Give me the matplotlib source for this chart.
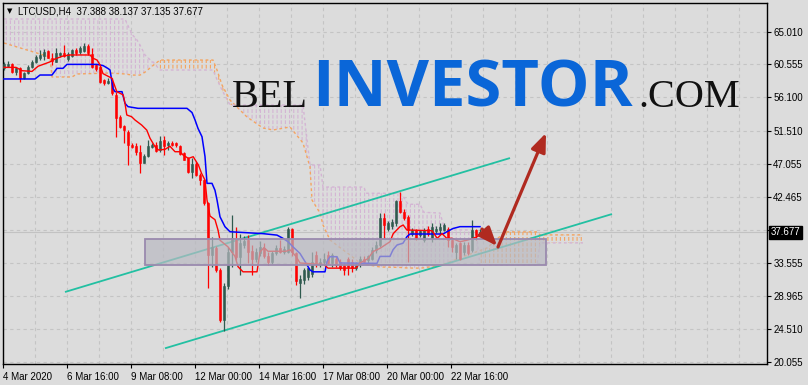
import numpy as np
import matplotlib
matplotlib.use('Agg')
import matplotlib.pyplot as plt
from matplotlib.patches import Rectangle
from matplotlib.transforms import blended_transform_factory

plt.rcParams['font.family'] = ['Liberation Sans', 'DejaVu Sans']

# ---------------- data (LTCUSD H4) ----------------
opens = [60.02, 60.38, 60.56, 59.47, 60.02, 58.75, 59.34, 60.25, 60.84, 61.38,
         61.75, 62.38, 61.47, 60.93, 61.84, 62.06, 61.29, 61.75, 62.52, 62.20,
         62.38, 63.10, 61.93, 60.47, 60.25, 58.43, 58.00, 58.20, 56.40, 53.43,
         52.20, 51.39, 49.57, 49.44, 48.66, 47.16, 48.07, 49.35, 49.57, 48.89,
         50.25, 49.53, 49.90, 49.80, 49.44, 48.50, 47.75, 45.94, 46.98, 45.49,
         44.80, 41.63, 34.60, 35.60, 32.60, 25.80, 30.30, 35.04, 36.63, 34.36,
         35.95, 36.60, 35.20, 34.00, 34.80, 35.60, 34.50, 33.60, 34.80, 35.60,
         35.00, 35.00, 38.20, 34.80, 30.80, 31.20, 31.60, 32.00, 34.60, 33.30,
         33.60, 34.60, 33.50, 34.00, 33.70, 33.20, 34.00, 33.70, 32.80, 33.30,
         34.10, 33.90, 34.10, 35.30, 36.00, 39.60, 38.20, 38.50, 38.90, 41.90,
         40.50, 39.80, 37.50, 38.00, 37.30, 36.60, 38.20, 36.90, 37.80, 38.00,
         38.00, 38.20, 36.60, 35.00, 36.20, 35.00, 35.90, 35.30, 38.00, 37.388]
highs = [60.93, 61.00, 60.70, 60.25, 60.25, 59.56, 60.50, 61.15, 61.80, 62.52,
         62.65, 62.52, 62.06, 62.74, 62.30, 63.20, 62.29, 62.70, 62.75, 63.00,
         63.42, 63.29, 62.74, 60.60, 60.38, 58.60, 58.66, 58.66, 56.84, 53.60,
         52.30, 51.60, 49.80, 49.80, 49.57, 48.40, 50.25, 49.80, 50.00, 50.80,
         50.80, 50.16, 50.10, 50.00, 49.60, 48.66, 47.98, 47.75, 47.20, 45.70,
         45.00, 41.80, 37.10, 35.80, 32.80, 30.80, 35.70, 40.10, 38.36, 37.50,
         37.20, 37.30, 36.00, 35.50, 36.50, 36.20, 35.00, 35.20, 36.00, 36.60,
         35.80, 38.36, 38.30, 35.00, 31.90, 32.80, 33.00, 35.00, 35.20, 34.20,
         34.80, 35.10, 34.80, 34.40, 34.00, 33.50, 34.30, 34.00, 33.60, 34.40,
         34.40, 34.60, 35.70, 36.50, 40.30, 40.30, 39.20, 39.50, 42.10, 43.20,
         40.80, 40.00, 38.30, 38.20, 38.00, 38.30, 38.50, 38.90, 38.50, 39.00,
         39.00, 38.40, 36.80, 36.20, 36.40, 36.30, 36.40, 39.40, 38.20, 38.137]
lows = [59.84, 60.25, 59.34, 59.11, 58.11, 58.57, 59.30, 60.00, 60.70, 61.16,
        61.16, 61.38, 60.47, 60.84, 61.60, 61.60, 61.02, 61.60, 61.90, 62.00,
        62.30, 61.84, 60.02, 59.70, 57.97, 57.80, 57.84, 56.38, 50.70, 51.90,
        49.90, 46.85, 49.10, 48.20, 45.80, 47.07, 48.00, 49.10, 48.66, 48.66,
        48.20, 48.90, 49.40, 49.30, 48.20, 47.50, 45.70, 45.03, 45.30, 44.10,
        41.40, 30.05, 33.00, 32.30, 25.50, 24.30, 30.00, 33.00, 33.90, 31.86,
        35.50, 33.50, 31.90, 33.60, 34.50, 34.20, 33.20, 33.40, 34.60, 34.80,
        34.70, 34.80, 34.50, 30.50, 28.70, 30.60, 31.20, 31.60, 33.00, 32.90,
        33.30, 33.30, 33.00, 33.00, 32.50, 31.90, 31.90, 32.30, 32.50, 33.00,
        33.50, 33.50, 33.90, 34.80, 35.70, 36.80, 37.90, 38.20, 38.50, 40.30,
        39.30, 33.70, 37.20, 36.60, 37.00, 36.40, 37.20, 36.40, 37.60, 37.50,
        37.80, 35.70, 35.00, 34.10, 33.90, 34.60, 34.60, 35.00, 36.60, 37.135]
closes = [60.56, 60.56, 59.47, 60.02, 58.75, 59.34, 60.25, 60.93, 61.56, 61.84,
          62.29, 61.47, 61.02, 62.06, 62.06, 61.75, 61.93, 62.47, 62.06, 62.74,
          63.10, 62.06, 60.25, 59.90, 58.10, 58.00, 58.30, 56.61, 53.20, 52.07,
          51.60, 49.57, 49.35, 48.66, 47.16, 48.07, 49.44, 49.57, 48.80, 50.16,
          49.44, 49.80, 49.57, 49.53, 48.35, 47.60, 45.94, 46.98, 45.49, 44.80,
          41.63, 34.60, 35.70, 32.55, 25.80, 30.36, 35.04, 36.86, 34.36, 36.18,
          36.54, 35.00, 34.00, 35.00, 35.70, 34.40, 33.60, 34.80, 35.60, 35.00,
          35.40, 38.20, 35.00, 31.00, 31.30, 32.50, 32.80, 33.70, 33.50, 33.70,
          34.10, 33.50, 34.60, 33.20, 32.80, 32.50, 33.00, 32.80, 33.20, 34.10,
          33.70, 34.40, 35.30, 35.90, 39.60, 38.70, 38.90, 39.10, 41.90, 40.50,
          39.60, 38.00, 38.00, 36.90, 37.80, 38.00, 37.50, 38.40, 38.20, 38.40,
          38.70, 36.60, 35.70, 35.90, 34.10, 35.90, 34.80, 38.00, 37.30, 37.677]

# Ichimoku lines (bar index, price)
tenkan_idx = [0, 3, 4.5, 7, 8.5, 11.5, 12.75, 14.75, 16.5, 21.5, 22.25, 23.25, 24, 24.75,
              27, 28.2, 29.8, 30.25, 30.7, 31.9, 32.75, 34.4, 35.7, 36.5, 37.75, 38.6,
              40.25, 41.5, 42.75, 44, 44.8, 46.1, 47.3, 48.6, 49.4, 50.25, 50.75, 51.5,
              52.75, 53.5, 54, 56, 57.75, 58.5, 59.75, 63.25, 64, 65, 66, 70.5, 71.5,
              73, 74, 80, 81, 88, 89, 91, 92.25, 94, 96.5, 97.3, 99, 99.8, 100.7, 107,
              108.3, 109.5, 110.7, 112, 114, 115.7, 117.3, 119]
tenkan_val = [60.15, 60.15, 59.7, 59.6, 60.3, 60.9, 61.3, 61.7, 61.84, 61.84, 61.4, 61.15,
              60.5, 59.3, 58.66, 56.84, 56.4, 55.25, 53.66, 53.43, 52.98, 52.3, 51.6, 50.5,
              49.35, 48.9, 48.98, 49.4, 48.66, 48.66, 48.2, 47.75, 47.98, 46.85, 45.7,
              44.8, 42.1, 39.9, 39.4, 38.0, 36.6, 35.7, 34.4, 33.0, 32.3, 32.3, 35.0,
              35.6, 35.1, 35.1, 35.3, 34.4, 33.5, 33.3, 32.8, 32.8, 33.5, 34.1, 35.05,
              35.5, 36.4, 37.5, 38.45, 38.68, 38.0, 37.9, 36.86, 37.5, 36.86, 36.86,
              36.4, 36.6, 36.86, 37.3]
kijun_idx = [0, 7.75, 9, 12, 13.25, 14.75, 15.75, 23.25, 24.75, 26, 26.5, 27.25, 27.75,
             29.5, 30.25, 31, 33.5, 45.75, 47, 47.75, 48.5, 49.5, 50.25, 50.75, 52,
             52.75, 53.25, 54, 55.25, 56.5, 64.75, 68.25, 69.75, 71, 72.25, 74, 75.25,
             76.5, 77.25, 80.25, 80.75, 81.5, 83.25, 84, 93.25, 94, 96.5, 97.25, 98.25,
             99.75, 100.75, 101.5, 109.75, 110.75, 112.25, 114, 119]
kijun_val = [58.57, 58.57, 59.11, 59.11, 60.02, 60.02, 60.56, 60.56, 60.4, 60.0, 59.8,
             57.3, 56.84, 56.84, 55.25, 54.8, 54.57, 54.57, 54.0, 53.0, 51.84, 50.7,
             48.0, 44.35, 44.35, 43.4, 42.1, 39.8, 38.44, 37.76, 37.5, 37.3, 36.86,
             36.4, 35.7, 34.8, 33.7, 32.55, 32.3, 32.3, 33.7, 34.36, 34.36, 33.5, 33.45,
             34.4, 34.4, 35.3, 35.95, 36.2, 37.1, 37.45, 37.45, 37.77, 38.2, 38.45, 38.45]
span_idx = [0, 11.5, 12, 17, 18.25, 26.5, 30.25, 31.5, 32.25, 33.25, 34, 35.25, 36.5,
            37.25, 39, 52.25, 53.25, 54.5, 56.5, 60.75, 64.75, 67.25, 71.5, 74.75, 76.5,
            77, 79, 79.75, 81.5, 84.75, 86.5, 89, 90, 90.5, 94, 99, 100, 101, 104, 105,
            109, 110.25, 114, 118, 119, 120.75, 125.25, 133.25, 134, 144.75]
span_a = [63.47, 61.56, 58.84, 58.84, 59.25, 59.38, 59.25, 59.15, 59.1, 59.1, 59.1, 59.5,
          60.06, 60.4, 61.15, 61.15, 59.79, 57.75, 55.7, 53.39, 51.89, 51.62, 52.03,
          49.85, 46.58, 42.08, 40.31, 38.68, 36.64, 35.28, 34.6, 33.5, 33.4, 33.3,
          32.96, 32.9, 32.85, 32.82, 32.8, 32.85, 33.2, 33.4, 34.2, 35.0, 35.2, 35.55,
          37.74, 37.74, 37.33, 37.33]
span_b = [66.74, 66.74, 66.74, 66.74, 66.74, 66.74, 66.74, 65.24, 64.5, 63.88, 63.2, 61.84,
          61.2, 60.9, 59.79, 59.79, 58.5, 57.07, 55.02, 55.02, 55.02, 55.02, 55.02,
          55.02, 46.85, 46.85, 46.85, 43.85, 43.85, 43.85, 43.85, 43.85, 43.85, 43.0,
          43.0, 43.0, 42.4, 41.5, 41.5, 40.4, 40.31, 38.0, 38.0, 38.0, 33.2, 33.2,
          33.2, 33.2, 36.24, 36.24]

# drawn objects (bar index, price)
channel_upper = [(15.25, 29.55), (126.5, 47.80)]
channel_lower = [(40.25, 21.88), (152.0, 40.17)]
zone_x = [35.25, 135.5]
zone_y = [33.23, 36.77]
arrow_down = [(119.5, 38.13), (123.25, 35.82)]
arrow_up = [(123.5, 35.68), (135.5, 51.21)]

tick_bars = [0, 16, 32, 48, 64, 80, 96, 112]
tick_labels = ['4 Mar 2020', '6 Mar 16:00', '9 Mar 08:00', '12 Mar 00:00',
               '14 Mar 16:00', '17 Mar 08:00', '20 Mar 00:00', '22 Mar 16:00']
y_ticks = [20.055, 24.510, 28.965, 33.555, 38.010, 42.465, 47.055, 51.510, 56.100,
           60.555, 65.010]
hidden_tick = 38.010   # covered by the current-price label

# ---------------- styling ----------------
BG = '#dcdcdc'
BULL = '#2f5a4e'
BEAR = '#ff0000'
GRID = '#c4c4c4'
SANDY = '#f4a460'
THISTLE = '#d4b4d4'
TEAL = '#22c0a2'
ARROW = '#b02a20'

W, H = 808, 385
fig = plt.figure(figsize=(W / 100, H / 100), dpi=100, facecolor=BG)
ax = fig.add_axes([3 / W, 1 - 364 / H, 764 / W, 361 / H])
ax.set_facecolor(BG)
ax.set_xlim(-0.25, 190.75)
ax.set_ylim(19.742, 68.92)
ax.set_axisbelow(True)

o = np.array(opens); h = np.array(highs); l = np.array(lows); c = np.array(closes)
idx = np.arange(len(c))
up = c >= o

# cloud: dotted vertical hatching
sa = np.array(span_a); sb = np.array(span_b); si = np.array(span_idx)
with plt.rc_context({'hatch.linewidth': 0.8}):
    ax.fill_between(si, sa, sb, where=sa >= sb, interpolate=True, facecolor='none',
                    edgecolor=SANDY, hatch='||||', linewidth=0, zorder=1)
    ax.fill_between(si, sa, sb, where=sa < sb, interpolate=True, facecolor='none',
                    edgecolor=THISTLE, hatch='||||', linewidth=0, zorder=1)
with plt.rc_context({'hatch.linewidth': 1.3}):
    ax.fill_between(si, sa, sb, interpolate=True, facecolor='none',
                    edgecolor=BG, hatch='---', linewidth=0, zorder=1.1)
ax.plot(si, sa, color=SANDY, lw=1.0, ls=(0, (2, 2)), zorder=1.5)
ax.plot(si, sb, color=THISTLE, lw=1.0, ls=(0, (2, 2)), zorder=1.5)

# bid line
ax.axhline(c[-1], color='#c2c2c2', lw=0.8, zorder=0.8)

# channel
for pts in (channel_upper, channel_lower):
    ax.plot([pts[0][0], pts[1][0]], [pts[0][1], pts[1][1]], color=TEAL, lw=1.3,
            zorder=2, solid_capstyle='butt')

# candles
wick_cols = [BULL if u else BEAR for u in up]
ax.vlines(idx, l, h, colors=wick_cols, lw=0.9, zorder=3)
ax.bar(idx[up], (c - o)[up], bottom=o[up], width=0.7, color=BULL, edgecolor=BULL,
       lw=0.4, zorder=3.1)
ax.bar(idx[~up], (c - o)[~up], bottom=o[~up], width=0.7, color=BEAR, edgecolor=BEAR,
       lw=0.4, zorder=3.1)

# tenkan / kijun
ax.plot(kijun_idx, kijun_val, color='#0000ff', lw=1.1, zorder=4)
ax.plot(tenkan_idx, tenkan_val, color='#ff0000', lw=1.0, zorder=4.1)

# zone box
ax.add_patch(Rectangle((zone_x[0], zone_y[0]), zone_x[1] - zone_x[0], zone_y[1] - zone_y[0],
                       facecolor=(0.725, 0.725, 0.755, 0.7), edgecolor='#9a8aae',
                       lw=1.3, zorder=5))

# arrows
for (tail, head) in (arrow_down, arrow_up):
    ax.annotate('', xy=head, xytext=tail,
                arrowprops=dict(arrowstyle='-|>,head_length=0.8,head_width=0.32',
                                mutation_scale=14, color=ARROW, lw=2.3,
                                shrinkA=0, shrinkB=0), zorder=6)

# axes / ticks
tick_pos = [b - 0.25 for b in tick_bars]
ax.set_xticks(tick_pos)
ax.set_xticklabels(tick_labels)
ax.set_xticks([8 * k - 0.25 for k in range(24)], minor=True)
for lab in ax.get_xticklabels():
    lab.set_horizontalalignment('left')
ax.tick_params(axis='x', which='major', length=3, width=0.8, pad=3, labelsize=7,
               direction='out', colors='black')
ax.tick_params(axis='x', which='minor', length=0)
ax.yaxis.tick_right()
ax.set_yticks(y_ticks)
ax.set_yticklabels(['' if v == hidden_tick else f'{v:.3f}' for v in y_ticks])
ax.tick_params(axis='y', length=3, width=0.8, pad=1.5, labelsize=7, direction='out')
ax.grid(which='both', axis='x', color=GRID, ls=(0, (3, 3)), lw=0.8)
ax.grid(which='major', axis='y', color=GRID, ls=(0, (3, 3)), lw=0.8)
for sp in ax.spines.values():
    sp.set_color('black')
    sp.set_linewidth(1.0)

# current price label
tr = blended_transform_factory(ax.transAxes, ax.transData)
ax.text(1.0045, c[-1], f'{c[-1]:.3f}', transform=tr, color='white', fontsize=7,
        ha='left', va='center', clip_on=False, zorder=10,
        bbox=dict(boxstyle='square,pad=0.18', fc='black', ec='black'))

# title
fig.text(9.5 / W, 1 - 11 / H, '▼', fontsize=5, ha='center', va='center',
         family='DejaVu Sans', color='black')
fig.text(18 / W, 1 - 11 / H,
         f'LTCUSD,H4  {o[-1]:.3f} {h[-1]:.3f} {l[-1]:.3f} {c[-1]:.3f}',
         fontsize=7, ha='left', va='center', color='black')

# watermark logo
base = 1 - 106.7 / H
fig.text(308 / W, base, 'BEL', fontsize=29, family='Liberation Serif', ha='right',
         va='baseline', color='#111111', zorder=20)
fig.text(312 / W, base, 'INVESTOR', fontsize=47, family='Open Sans', weight='bold',
         ha='left', va='baseline', color='#0a66d8', zorder=20)
fig.text(638 / W, base, '.COM', fontsize=29, family='Liberation Serif', ha='left',
         va='baseline', color='#111111', zorder=20)

fig.savefig('out.png', dpi=100, facecolor=BG)
